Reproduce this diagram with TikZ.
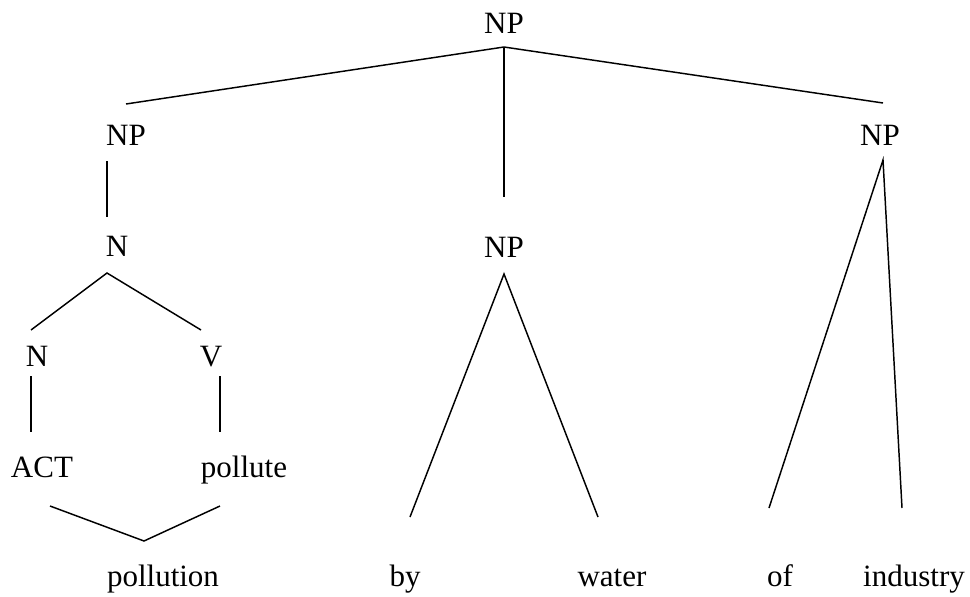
\documentclass[tikz,border=0pt]{standalone}
\usepackage{fontspec}
\setmainfont{Liberation Serif}

\begin{document}
\begin{tikzpicture}[x=0.75pt,y=-0.75pt]
    \useasboundingbox (0,0) rectangle (970,596);
    \begin{scope}[line width=1.1pt,font=\fontsize{23.25}{28}\selectfont,
                  every node/.style={anchor=base,inner sep=0pt}]
        % labels
        \node (np0) at (504,33) {NP};
        \node (np1) at (126,145) {NP};
        \node (np3) at (880,145) {NP};
        \node (n) at (117,256) {N};
        \node (np2) at (504,257) {NP};
        \node (n2) at (37,366) {N};
        \node (v) at (211,366) {V};
        \node (act) at (42,477) {ACT};
        \node (pollute) at (244,477) {pollute};
        \node (pollution) at (163,586) {pollution};
        \node (by) at (405,586) {by};
        \node (water) at (612,586) {water};
        \node (of) at (780,586) {of};
        \node (industry) at (914,586) {industry};

        % branch ends
        \coordinate (np0b) at (504,47);
        \coordinate (np1t) at (126,104);
        \coordinate (np2t) at (504,197);
        \coordinate (np3t) at (883,103);
        \coordinate (np1b) at (107,161);
        \coordinate (nt) at (107,217);
        \coordinate (nb) at (107,273);
        \coordinate (n2t) at (31,330);
        \coordinate (vt) at (201,330);
        \coordinate (n2b) at (31,376);
        \coordinate (actt) at (31,432);
        \coordinate (vb) at (220,376);
        \coordinate (pollutet) at (220,432);
        \coordinate (actb) at (50,506);
        \coordinate (pollutiont) at (144,541);
        \coordinate (polluteb) at (220,506);
        \coordinate (np2b) at (504,274);
        \coordinate (byt) at (410,517);
        \coordinate (watert) at (598,517);
        \coordinate (np3b) at (883,160);
        \coordinate (oft) at (769,508);
        \coordinate (industryt) at (902,508);

        % branches
        \draw (np1t) -- (np0b) -- (np3t);
        \draw (np0b) -- (np2t);
        \draw (np1b) -- (nt);
        \draw (n2t) -- (nb) -- (vt);
        \draw (n2b) -- (actt);
        \draw (vb) -- (pollutet);
        \draw (actb) -- (pollutiont) -- (polluteb);
        \draw (byt) -- (np2b) -- (watert);
        \draw (oft) -- (np3b) -- (industryt);
    \end{scope}
\end{tikzpicture}
\end{document}
